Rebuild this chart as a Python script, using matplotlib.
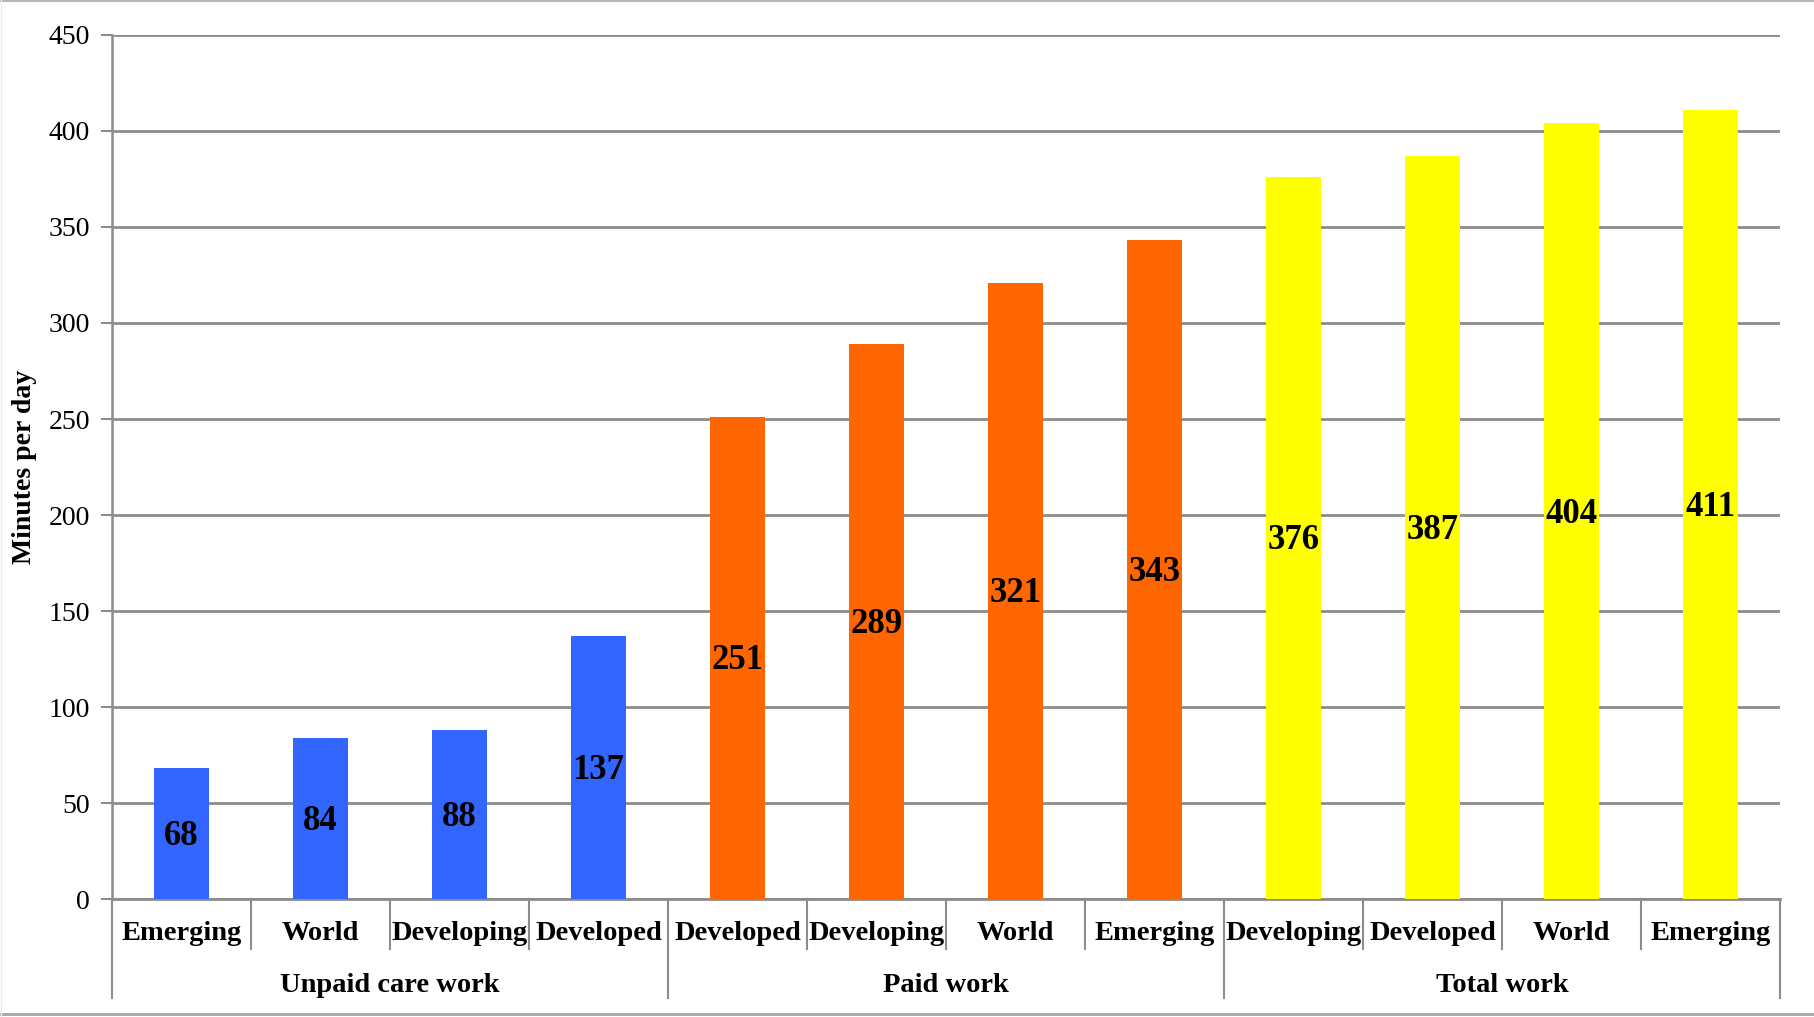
import matplotlib.pyplot as plt
from matplotlib.lines import Line2D
import matplotlib.transforms as mtrans

plt.rcParams['font.family'] = ['Liberation Serif', 'DejaVu Serif']

groups = ['Unpaid care work', 'Paid work', 'Total work']
categories = [
    ['Emerging', 'World', 'Developing', 'Developed'],
    ['Developed', 'Developing', 'World', 'Emerging'],
    ['Developing', 'Developed', 'World', 'Emerging'],
]
values = [
    [68, 84, 88, 137],
    [251, 289, 321, 343],
    [376, 387, 404, 411],
]
colors = ['#3366FF', '#FF6600', '#FFFF00']

grid_col = '#8c8c8c'

fig = plt.figure(figsize=(18.15, 10.17), dpi=100)
ax = fig.add_axes([0.0617, 0.116, 0.919, 0.8496])

n = sum(len(c) for c in categories)
x = 0
for gi, (cats, vals) in enumerate(zip(categories, values)):
    xs = list(range(x, x + len(cats)))
    ax.bar(xs, vals, width=0.4, color=colors[gi], zorder=3)
    for xi, v in zip(xs, vals):
        ax.text(xi, v / 2 - 1.5, str(v), ha='center', va='center', fontsize=25,
                fontweight='bold', zorder=4)
    x += len(cats)

ax.set_xlim(-0.5, n - 0.5)
ax.set_ylim(0, 450)
ax.set_yticks(range(0, 451, 50))
ax.tick_params(axis='y', labelsize=20, length=8, width=1.5, color=grid_col, pad=8)
ax.tick_params(axis='x', bottom=False, labelbottom=False)
ax.yaxis.grid(True, color=grid_col, linewidth=2, zorder=0)
ax.set_axisbelow(True)
for s in ['top', 'right']:
    ax.spines[s].set_visible(False)
ax.spines['left'].set_color(grid_col)
ax.spines['left'].set_linewidth(1.8)
ax.spines['bottom'].set_color(grid_col)
ax.spines['bottom'].set_linewidth(2)
ax.set_ylabel('Minutes per day', fontsize=20, fontweight='bold', labelpad=8)

# multi-level category axis
trans = mtrans.blended_transform_factory(ax.transData, ax.transAxes)
x = 0
for gi, cats in enumerate(categories):
    for ci, c in enumerate(cats):
        ax.text(x + ci, -0.040, c, transform=trans, ha='center', va='center',
                fontsize=20.5, fontweight='bold')
    ax.text(x + (len(cats) - 1) / 2, -0.100, groups[gi], transform=trans,
            ha='center', va='center', fontsize=20.5, fontweight='bold')
    for ci in range(1, len(cats)):
        ax.plot([x + ci - 0.5] * 2, [0, -0.058], transform=trans, color=grid_col,
                linewidth=1.5, clip_on=False)
    ax.plot([x - 0.5] * 2, [0, -0.115], transform=trans, color=grid_col,
            linewidth=1.5, clip_on=False)
    x += len(cats)
ax.plot([n - 0.5] * 2, [0, -0.115], transform=trans, color=grid_col,
        linewidth=1.5, clip_on=False)

# frame lines of the original picture
fig.lines.append(Line2D([0, 1], [0.999, 0.999], transform=fig.transFigure,
                        color='#b5b5b5', linewidth=1.5))
fig.lines.append(Line2D([0, 1], [0.0025, 0.0025], transform=fig.transFigure,
                        color='#a5a5a5', linewidth=2))
fig.lines.append(Line2D([0.0005, 0.0005], [0, 1], transform=fig.transFigure,
                        color='#ececec', linewidth=1))

fig.savefig('out.png', dpi=100)
